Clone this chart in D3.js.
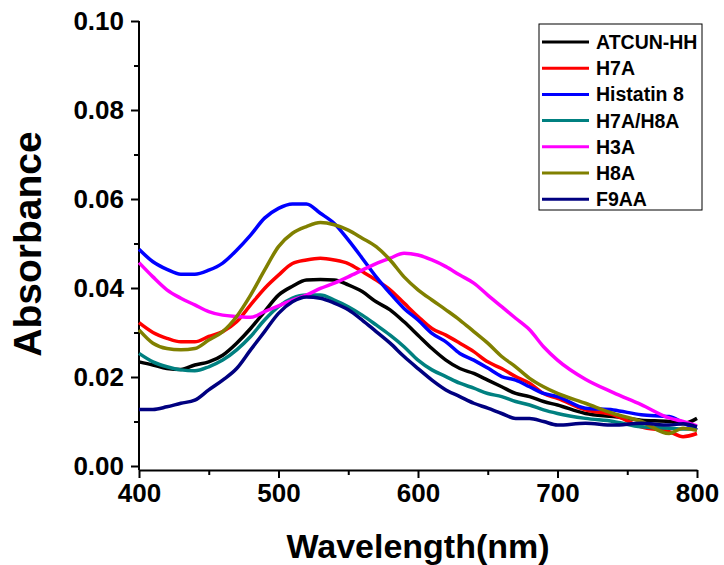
<!DOCTYPE html>
<meta charset="utf-8">
<script src="https://d3js.org/d3.v7.min.js"></script>
<style>
  body { margin: 0; background: #fff; }
  text { font-family: "Liberation Sans", Arial, sans-serif; font-weight: bold; }
</style>
<div id="my_dataviz"></div>
<script>

// wavelengths (nm) sampled every 10 nm, then 20 nm in the tail
var wavelengths = [400,410,420,430,440,450,460,470,480,490,500,510,520,530,540,550,560,570,580,590,600,
                   610,620,630,640,650,660,670,680,690,700,720,740,760,780,790,800];

var seriesNames = ["ATCUN-HH", "H7A", "Histatin 8", "H7A/H8A", "H3A", "H8A", "F9AA"];
var seriesColors = ["#000000", "#ff0000", "#0000ff", "#008080", "#ff00ff", "#808000", "#000080"];

var atcunHH = [0.0234,0.0227,0.0219,0.0217,0.0227,0.0234,0.0249,0.0276,0.0309,0.0347,0.0384,0.0404,0.0418,0.0419,0.0418,0.0407,0.0392,0.0369,0.0351,0.0324,0.0294,
               0.0264,0.0238,0.0219,0.0208,0.0193,0.0178,0.0163,0.0156,0.0145,0.0137,0.0118,0.0111,0.0103,0.0100,0.0095,0.0107];
var h7a = [0.0322,0.0300,0.0287,0.0279,0.0279,0.0291,0.0302,0.0324,0.0362,0.0399,0.0429,0.0455,0.0463,0.0467,0.0463,0.0455,0.0437,0.0418,0.0396,0.0366,0.0336,
           0.0309,0.0294,0.0276,0.0257,0.0234,0.0219,0.0201,0.0186,0.0163,0.0152,0.0126,0.0115,0.0088,0.0077,0.0066,0.0073];
var histatin8 = [0.0487,0.0459,0.0442,0.0431,0.0431,0.0440,0.0456,0.0485,0.0519,0.0557,0.0579,0.0589,0.0589,0.0568,0.0545,0.0508,0.0467,0.0425,0.0388,0.0354,0.0328,
                 0.0298,0.0279,0.0253,0.0238,0.0220,0.0201,0.0193,0.0178,0.0163,0.0156,0.0130,0.0126,0.0115,0.0111,0.0097,0.0081];
var h7aH8a = [0.0253,0.0234,0.0223,0.0216,0.0214,0.0223,0.0238,0.0261,0.0291,0.0328,0.0358,0.0377,0.0384,0.0384,0.0373,0.0358,0.0339,0.0317,0.0294,0.0268,0.0238,
              0.0216,0.0201,0.0186,0.0175,0.0163,0.0156,0.0145,0.0137,0.0126,0.0118,0.0107,0.0100,0.0088,0.0085,0.0083,0.0085];
var h3a = [0.0457,0.0425,0.0396,0.0377,0.0362,0.0347,0.0339,0.0336,0.0334,0.0347,0.0360,0.0373,0.0384,0.0399,0.0411,0.0425,0.0440,0.0455,0.0467,0.0478,0.0474,
           0.0463,0.0448,0.0429,0.0411,0.0384,0.0358,0.0332,0.0306,0.0268,0.0238,0.0195,0.0165,0.0138,0.0108,0.0100,0.0090];
var h8a = [0.0306,0.0276,0.0264,0.0261,0.0264,0.0283,0.0302,0.0336,0.0384,0.0440,0.0493,0.0523,0.0538,0.0547,0.0542,0.0530,0.0512,0.0493,0.0463,0.0425,0.0396,
           0.0373,0.0351,0.0328,0.0302,0.0276,0.0246,0.0223,0.0197,0.0178,0.0163,0.0141,0.0118,0.0100,0.0073,0.0085,0.0080];
var f9aa = [0.0127,0.0127,0.0133,0.0141,0.0148,0.0171,0.0193,0.0219,0.0261,0.0302,0.0343,0.0369,0.0380,0.0377,0.0366,0.0351,0.0328,0.0302,0.0276,0.0246,0.0219,
            0.0193,0.0171,0.0156,0.0141,0.0130,0.0118,0.0107,0.0107,0.0100,0.0092,0.0096,0.0092,0.0096,0.0092,0.0095,0.0088];

var seriesValues = [atcunHH, h7a, histatin8, h7aH8a, h3a, h8a, f9aa];

var xTicks = [400, 500, 600, 700, 800];
var yTicks = [0.00, 0.02, 0.04, 0.06, 0.08, 0.10];

var width = 724, height = 565;

var svg = d3.select("#my_dataviz")
  .append("svg")
    .attr("width", width)
    .attr("height", height);

var x = d3.scaleLinear().domain([400, 800]).range([139, 697]);
var y = d3.scaleLinear().domain([0, 0.1]).range([466, 21]);
var axisY0 = 470;

// x axis
svg.append("g")
  .attr("transform", "translate(0," + axisY0 + ")")
  .call(d3.axisBottom(x).tickValues(xTicks).tickFormat(d3.format("d")).tickSize(8).tickPadding(6).tickSizeOuter(0));
svg.append("g")
  .attr("transform", "translate(0," + axisY0 + ")")
  .call(d3.axisBottom(x).tickValues([450, 550, 650, 750]).tickFormat("").tickSize(5).tickSizeOuter(0))
  .select(".domain").remove();

// y axis
var yAxis = svg.append("g")
  .attr("transform", "translate(139,0)")
  .call(d3.axisLeft(y).tickValues(yTicks).tickFormat(d3.format(".2f")).tickSize(8).tickPadding(7).tickSizeOuter(0));
yAxis.select(".domain").attr("d", "M0," + y(0.1) + "V" + axisY0);
svg.append("g")
  .attr("transform", "translate(139,0)")
  .call(d3.axisLeft(y).tickValues([0.01, 0.03, 0.05, 0.07, 0.09]).tickFormat("").tickSize(5).tickSizeOuter(0))
  .select(".domain").remove();

svg.selectAll(".domain, .tick line").attr("stroke", "#000").attr("stroke-width", 2);
svg.selectAll(".tick text")
  .style("font-size", "26px")
  .style("font-family", "'Liberation Sans', Arial, sans-serif")
  .style("font-weight", "bold")
  .attr("fill", "#000");

// lines
var line = d3.line()
  .curve(d3.curveMonotoneX)
  .x(function(d) { return x(d[0]); })
  .y(function(d) { return y(d[1]); });

seriesValues.forEach(function(vals, i) {
  var pts = wavelengths.map(function(w, j) { return [w, vals[j]]; });
  svg.append("path")
    .datum(pts)
    .attr("fill", "none")
    .attr("stroke", seriesColors[i])
    .attr("stroke-width", 3.5)
    .attr("stroke-linejoin", "round")
    .attr("d", line);
});

// axis titles
svg.append("text")
  .attr("transform", "translate(41,244) rotate(-90)")
  .attr("text-anchor", "middle")
  .style("font-size", "39px")
  .text("Absorbance");

svg.append("text")
  .attr("x", 418)
  .attr("y", 558)
  .attr("text-anchor", "middle")
  .style("font-size", "34px")
  .text("Wavelength(nm)");

// legend
var legend = svg.append("g");
legend.append("rect")
  .attr("x", 539).attr("y", 24)
  .attr("width", 163).attr("height", 186)
  .attr("fill", "#fff")
  .attr("stroke", "#000")
  .attr("stroke-width", 1);

seriesNames.forEach(function(name, i) {
  var cy = 42 + i * 26.2;
  legend.append("line")
    .attr("x1", 542).attr("x2", 589)
    .attr("y1", cy).attr("y2", cy)
    .attr("stroke", seriesColors[i])
    .attr("stroke-width", 3);
  legend.append("text")
    .attr("x", 596).attr("y", cy + 7)
    .style("font-size", "19.5px")
    .text(name);
});

</script>
